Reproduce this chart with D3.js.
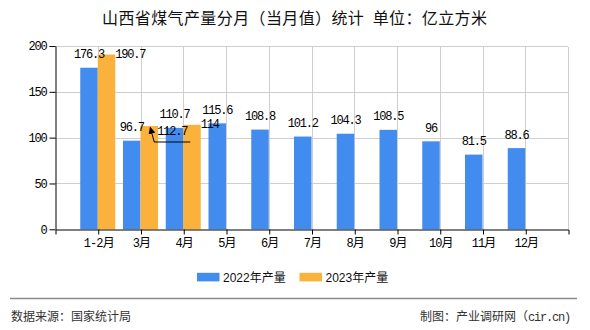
<!DOCTYPE html>
<html>
<head>
<meta charset="utf-8">
<script src="https://cdn.jsdelivr.net/npm/d3@7"></script>
<style>
  html, body { margin: 0; padding: 0; background: #fff; }
  svg { display: block; }
</style>
</head>
<body>
<svg id="chart" width="590" height="330"></svg>
<script>
// ---- data ----
const titleText = "山西省煤气产量分月（当月值）统计\u2002单位：亿立方米";
const categories = ["1-2月", "3月", "4月", "5月", "6月", "7月", "8月", "9月", "10月", "11月", "12月"];
const values2022 = [176.3, 96.7, 110.7, 115.6, 108.8, 101.2, 104.3, 108.5, 96, 81.5, 88.6];
const values2023 = [190.7, 112.7, 114];
const seriesNames = ["2022年产量", "2023年产量"];
const yTicks = [0, 50, 100, 150, 200];
const sourceText = "数据来源：国家统计局";
const creditText = "制图：产业调研网（cir.cn)";

// ---- style ----
const colors = ["#428cef", "#fbb23d"];
const monoFont = "'Liberation Mono', 'DejaVu Sans Mono', 'Noto Sans CJK SC', monospace";
const cjkFont = "'Noto Sans CJK SC', sans-serif";
const monoSize = "12px", monoSpacing = "-1.2px";

const svg = d3.select("#chart");
const plotL = 55, plotR = 568, plotT = 46, plotB = 229.3;

const x = d3.scalePoint().domain(categories).range([plotL, plotR]).padding(1);
const sub = d3.scaleBand().domain(seriesNames).range([-17.5, 17.5]).padding(0);
const y = d3.scaleLinear().domain([0, 200]).range([plotB, plotT]);

// title
svg.append("text")
  .attr("x", 294.5).attr("y", 23.5)
  .attr("text-anchor", "middle")
  .attr("textLength", 385).attr("lengthAdjust", "spacing")
  .style("font-family", cjkFont).style("font-size", "16px").style("fill", "#111")
  .text(titleText);

// grid
const grid = svg.append("g").attr("shape-rendering", "crispEdges");
grid.selectAll("line.h").data(yTicks.filter(d => d > 0)).join("line")
  .attr("x1", plotL).attr("x2", plotR)
  .attr("y1", d => Math.round(y(d)) + 0.5).attr("y2", d => Math.round(y(d)) + 0.5)
  .attr("stroke", "#cfcfcf");
grid.selectAll("line.v").data(categories.map(c => x(c)).concat([plotR])).join("line")
  .attr("x1", d => Math.round(d) + 0.5).attr("x2", d => Math.round(d) + 0.5)
  .attr("y1", Math.round(y(200)) + 0.5).attr("y2", plotB)
  .attr("stroke", "#cfcfcf");

// bars
const rows = categories.map((c, i) => ({ c, i, v: [values2022[i], values2023[i]] }));
const g = svg.append("g");
seriesNames.forEach((s, si) => {
  g.selectAll("rect.s" + si)
    .data(rows.filter(r => r.v[si] != null))
    .join("rect")
    .attr("x", r => x(r.c) + sub(s))
    .attr("y", r => y(r.v[si]))
    .attr("width", sub.bandwidth())
    .attr("height", r => y(0) - y(r.v[si]))
    .attr("fill", colors[si]);
});

// axes
const yAxis = svg.append("g")
  .attr("transform", `translate(${plotL + 0.5},0)`)
  .call(d3.axisLeft(y).tickValues(yTicks).tickSize(6).tickSizeOuter(0));
yAxis.select(".domain").attr("stroke", "#000");
yAxis.selectAll(".tick line").attr("stroke", "#000");
yAxis.selectAll("text")
  .style("font-family", monoFont).style("font-size", monoSize)
  .style("letter-spacing", monoSpacing).attr("fill", "#000");

const xAxis = svg.append("g")
  .attr("transform", `translate(0.5,${Math.round(plotB) + 0.5})`)
  .call(d3.axisBottom(x).tickSize(5).tickSizeOuter(5));
xAxis.select(".domain").attr("stroke", "#000");
xAxis.selectAll(".tick line").attr("stroke", "#000");
xAxis.selectAll("text")
  .attr("y", 17.5).attr("dy", 0)
  .style("font-family", monoFont).style("font-size", monoSize)
  .style("letter-spacing", "-0.9px").attr("fill", "#000");

// value labels
const lab = svg.append("g")
  .style("font-family", monoFont).style("font-size", monoSize)
  .style("letter-spacing", monoSpacing).attr("fill", "#000");

values2022.forEach((v, i) => {
  const cx = x(categories[i]) + sub(seriesNames[0]) + sub.bandwidth() / 2;
  lab.append("text").attr("x", cx).attr("y", y(v) - 9.5)
    .attr("text-anchor", "middle").text(v);
});

// 2023 labels: placed beside bars to avoid overlaps
const layout2023 = { "1-2月": "right", "3月": "leader", "4月": "right" };
svg.append("defs").append("marker")
  .attr("id", "arr").attr("viewBox", "0 0 10 10")
  .attr("refX", 9).attr("refY", 5)
  .attr("markerWidth", 7).attr("markerHeight", 7)
  .attr("orient", "auto-start-reverse")
  .append("path").attr("d", "M0,0 L10,5 L0,10 z").attr("fill", "#000");

values2023.forEach((v, i) => {
  const c = categories[i];
  const bx = x(c) + sub(seriesNames[1]);
  const bw = sub.bandwidth();
  const ty = y(v);
  const mode = layout2023[c];
  if (mode === "right") {
    lab.append("text").attr("x", bx + bw).attr("y", ty + 3).text(v);
  } else if (mode === "leader") {
    const cx = bx + bw / 2;
    svg.append("path")
      .attr("d", `M${cx + 41},${ty + 16} L${cx + 5},${ty + 16} L${cx + 1},${ty + 1.5}`)
      .attr("fill", "none").attr("stroke", "#000").attr("stroke-width", 1)
      .attr("marker-end", "url(#arr)");
    lab.append("text").attr("x", cx + 8).attr("y", ty + 8.5).text(v);
  } else {
    lab.append("text").attr("x", bx + bw / 2).attr("y", ty - 9.5)
      .attr("text-anchor", "middle").text(v);
  }
});

// legend
const legendX = [197, 299.5];
const leg = svg.append("g");
seriesNames.forEach((s, si) => {
  leg.append("rect").attr("x", legendX[si]).attr("y", 272.8)
    .attr("width", 22.5).attr("height", 8.6).attr("fill", colors[si]);
  leg.append("text").attr("x", legendX[si] + 26).attr("y", 281.8)
    .style("font-family", "'Liberation Sans', 'Noto Sans CJK SC', sans-serif")
    .style("font-size", "12px").attr("fill", "#111").text(s);
});

// footer
svg.append("line").attr("x1", 10).attr("x2", 577).attr("y1", 298.5).attr("y2", 298.5)
  .attr("stroke", "#8a8a8a").attr("stroke-width", 1.5);
svg.append("text").attr("x", 11).attr("y", 321)
  .style("font-family", cjkFont).style("font-size", "12px").attr("fill", "#333")
  .text(sourceText);
const credit = svg.append("text").attr("x", 570).attr("y", 321).attr("text-anchor", "end")
  .style("font-family", cjkFont).style("font-size", "12px").attr("fill", "#333");
// split into CJK and ASCII runs, ASCII drawn monospaced
(creditText.match(/[\x00-\x7f]+|[^\x00-\x7f]+/g) || []).forEach(part => {
  const ascii = /^[\x00-\x7f]+$/.test(part);
  credit.append("tspan")
    .style("font-family", ascii ? monoFont : cjkFont)
    .style("letter-spacing", ascii ? "-1.2px" : null)
    .text(part);
});
</script>
</body>
</html>
